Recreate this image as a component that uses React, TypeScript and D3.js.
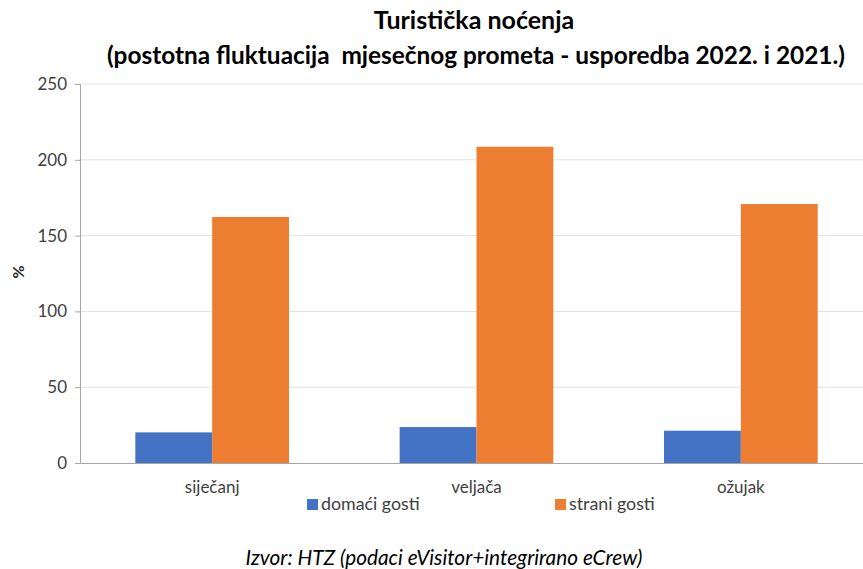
import React, { useEffect, useRef } from "react";
import * as d3 from "d3";

const months = ["siječanj", "veljača", "ožujak"];
const seriesNames = ["domaći gosti", "strani gosti"];
const domestic = [20.2, 23.7, 21.3];
const foreign = [162.3, 208.6, 170.8];
const yTicks = [0, 50, 100, 150, 200, 250];
const colors = ["#4472C4", "#ED7D31"];

export default function App() {
  const ref = useRef<SVGSVGElement>(null);

  useEffect(() => {
    const width = 863,
      height = 569;
    const svg = d3.select(ref.current);
    svg.selectAll("*").remove();
    svg.attr("width", width).attr("height", height);

    const font = "Lato, 'Open Sans', sans-serif";
    const left = 80,
      right = 873,
      top = 84,
      bottom = 463;

    const x = d3.scaleBand().domain(months).range([left, right]).paddingInner(0).paddingOuter(0);
    const xs = d3
      .scaleBand()
      .domain(seriesNames)
      .range([0, x.bandwidth()])
      .paddingInner(0)
      .paddingOuter(0.72);
    const y = d3.scaleLinear().domain([0, 250]).range([bottom, top]);

    // gridlines
    svg
      .append("g")
      .selectAll("line")
      .data(yTicks.slice(1))
      .enter()
      .append("line")
      .attr("x1", left)
      .attr("x2", right)
      .attr("y1", (d) => y(d))
      .attr("y2", (d) => y(d))
      .attr("stroke", "#e0e0e0")
      .attr("stroke-width", 1);

    // bars
    const rows = months.map((m, i) => ({ month: m, values: [domestic[i], foreign[i]] }));
    const groups = svg
      .append("g")
      .selectAll("g")
      .data(rows)
      .enter()
      .append("g")
      .attr("transform", (d) => `translate(${x(d.month)},0)`);
    groups
      .selectAll("rect")
      .data((d) => d.values.map((v, j) => ({ name: seriesNames[j], v, j })))
      .enter()
      .append("rect")
      .attr("x", (d) => xs(d.name)!)
      .attr("width", xs.bandwidth())
      .attr("y", (d) => y(d.v))
      .attr("height", (d) => y(0) - y(d.v))
      .attr("fill", (d) => colors[d.j]);

    // y axis
    const yAxis = svg
      .append("g")
      .attr("transform", `translate(${left},0)`)
      .call(d3.axisLeft(y).tickValues(yTicks).tickSize(5).tickPadding(8));
    yAxis.select(".domain").attr("stroke", "#a6a6a6");
    yAxis.selectAll(".tick line").attr("stroke", "#a6a6a6");
    yAxis
      .selectAll("text")
      .attr("font-family", font)
      .attr("font-size", 17)
      .attr("fill", "#404040");

    // x axis
    const xAxis = svg
      .append("g")
      .attr("transform", `translate(0,${bottom})`)
      .call(d3.axisBottom(x).tickSize(0).tickPadding(18));
    xAxis.select(".domain").attr("stroke", "#a6a6a6");
    xAxis
      .selectAll("text")
      .attr("font-family", font)
      .attr("font-size", 17)
      .attr("fill", "#404040");

    // y label
    svg
      .append("text")
      .attr("transform", `translate(24,272) rotate(-90)`)
      .attr("text-anchor", "middle")
      .attr("font-family", font)
      .attr("font-weight", "bold")
      .attr("font-size", 16)
      .attr("fill", "#262626")
      .text("%");

    // title
    svg
      .append("text")
      .attr("x", 474)
      .attr("y", 29)
      .attr("text-anchor", "middle")
      .attr("font-family", font)
      .attr("font-weight", "bold")
      .attr("font-size", 25)
      .attr("fill", "#000")
      .text("Turistička noćenja");
    svg
      .append("text")
      .attr("x", 476)
      .attr("y", 64)
      .attr("text-anchor", "middle")
      .attr("font-family", font)
      .attr("font-weight", "bold")
      .attr("font-size", 24.4)
      .attr("fill", "#000")
      .style("white-space", "pre")
      .text("(postotna fluktuacija  mjesečnog prometa - usporedba 2022. i 2021.)");

    // legend
    const legendX = [307, 555];
    const legend = svg
      .append("g")
      .selectAll("g")
      .data(seriesNames)
      .enter()
      .append("g")
      .attr("transform", (d, i) => `translate(${legendX[i]},499)`);
    legend
      .append("rect")
      .attr("width", 11)
      .attr("height", 11)
      .attr("fill", (d, i) => colors[i]);
    legend
      .append("text")
      .attr("x", 14)
      .attr("y", 11)
      .attr("font-family", font)
      .attr("font-size", 17.8)
      .attr("fill", "#404040")
      .text((d) => d);

    // source
    svg
      .append("text")
      .attr("x", 444)
      .attr("y", 565)
      .attr("text-anchor", "middle")
      .attr("font-family", font)
      .attr("font-style", "italic")
      .attr("font-size", 20.8)
      .attr("fill", "#000")
      .text("Izvor: HTZ (podaci eVisitor+integrirano eCrew)");
  }, []);

  return <svg ref={ref} style={{ position: "absolute", left: 0, top: 0 }}></svg>;
}
